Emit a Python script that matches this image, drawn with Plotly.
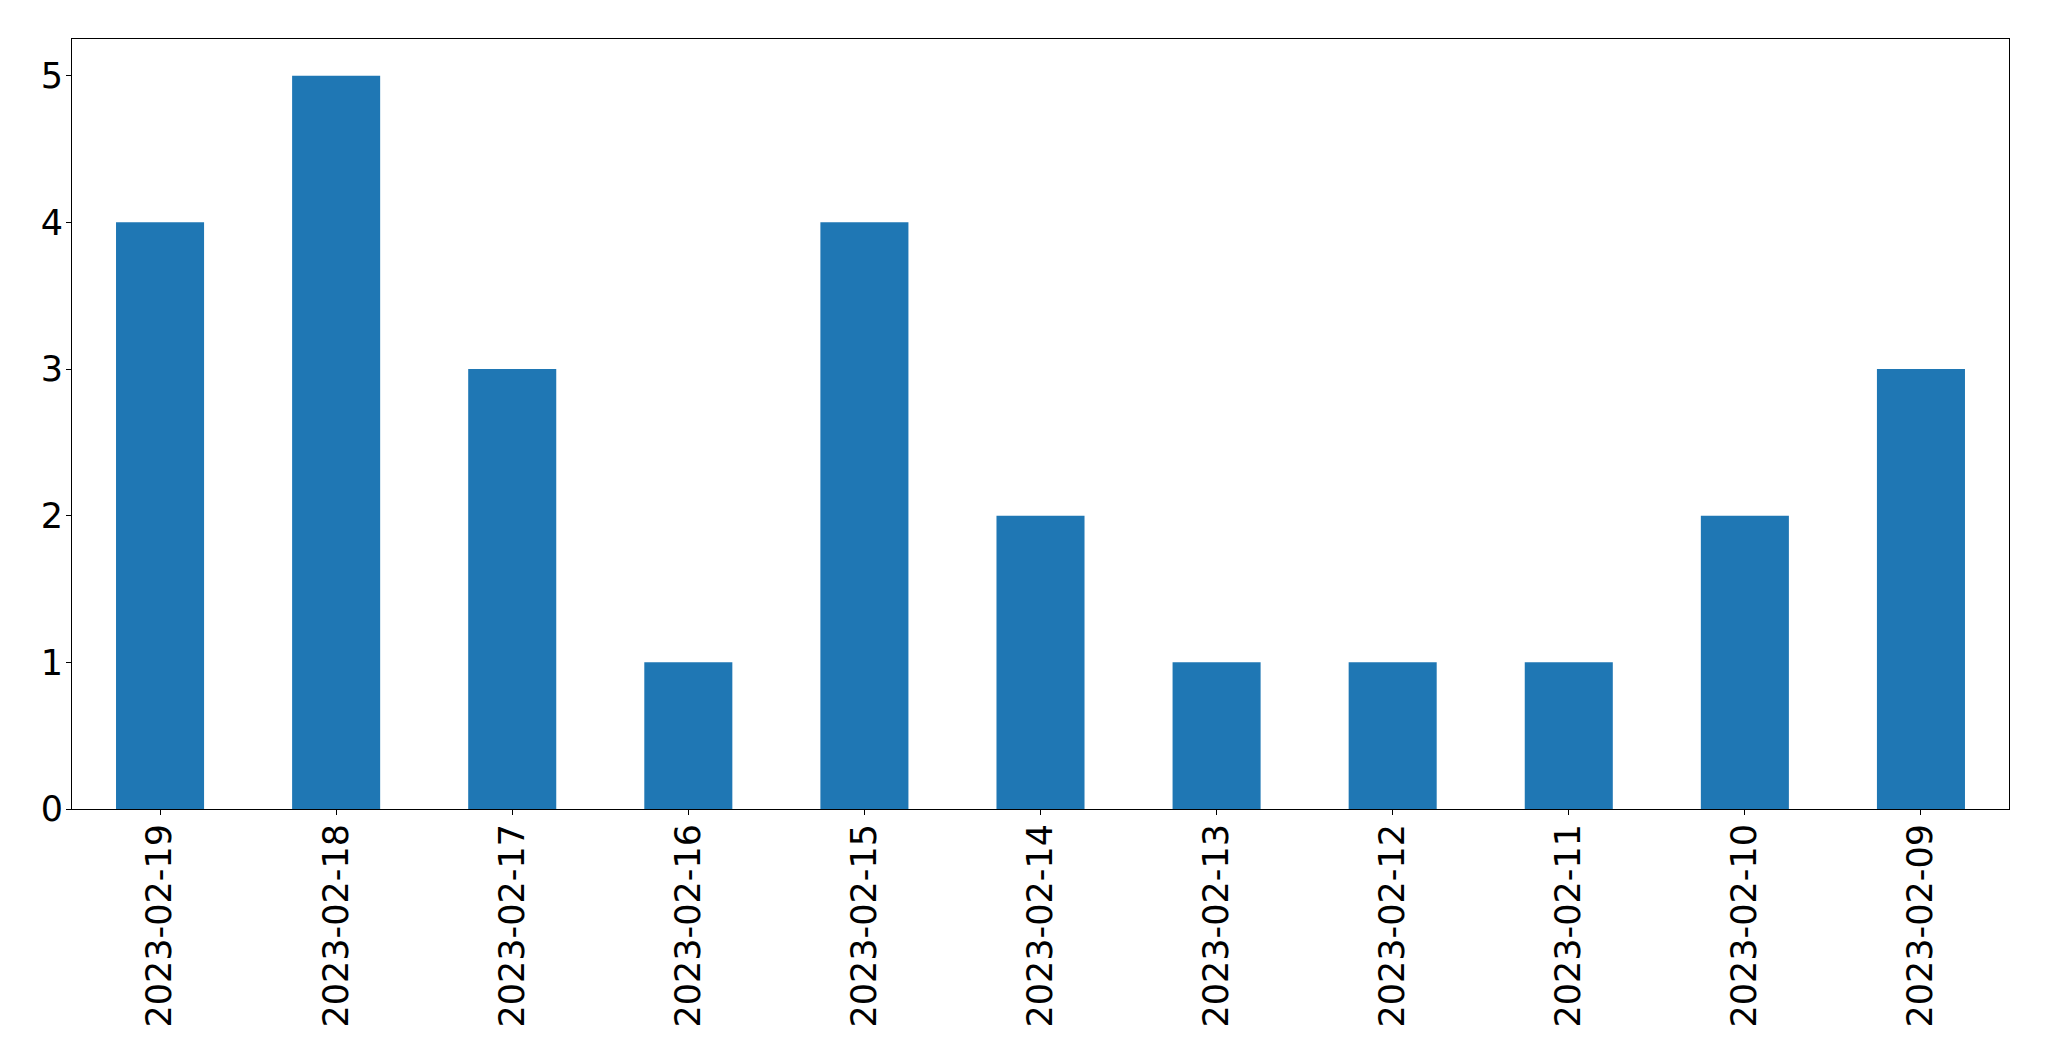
import plotly.graph_objects as go

dates = ["2023-02-19", "2023-02-18", "2023-02-17", "2023-02-16", "2023-02-15",
         "2023-02-14", "2023-02-13", "2023-02-12", "2023-02-11", "2023-02-10",
         "2023-02-09"]
counts = [4, 5, 3, 1, 4, 2, 1, 1, 1, 2, 3]
y_ticks = [0, 1, 2, 3, 4, 5]

fig = go.Figure(go.Bar(x=dates, y=counts, width=0.5, marker=dict(color="#1f77b4", line=dict(width=0))))

font = dict(family="DejaVu Sans", size=35, color="black")
fig.update_layout(
    width=2033, height=1045,
    margin=dict(l=64, r=32, t=31, b=244, pad=0),
    plot_bgcolor="white", paper_bgcolor="white",
    showlegend=False,
    font=font,
)
fig.update_xaxes(
    type="category", range=[-0.5, 10.5], tickangle=-90, tickfont=font,
    showline=True, linecolor="black", linewidth=1.1, mirror=True,
    ticks="outside", ticklen=5, tickcolor="black", tickwidth=1.1,
    showgrid=False, zeroline=False, ticklabelstandoff=-5,
)
fig.update_yaxes(
    range=[0, 5.25], tickvals=y_ticks, tickfont=font,
    showline=True, linecolor="black", linewidth=1.1, mirror=True,
    ticks="outside", ticklen=5, tickcolor="black", tickwidth=1.1,
    showgrid=False, zeroline=False, ticklabelstandoff=-4,
)
fig.write_html("out.html")
